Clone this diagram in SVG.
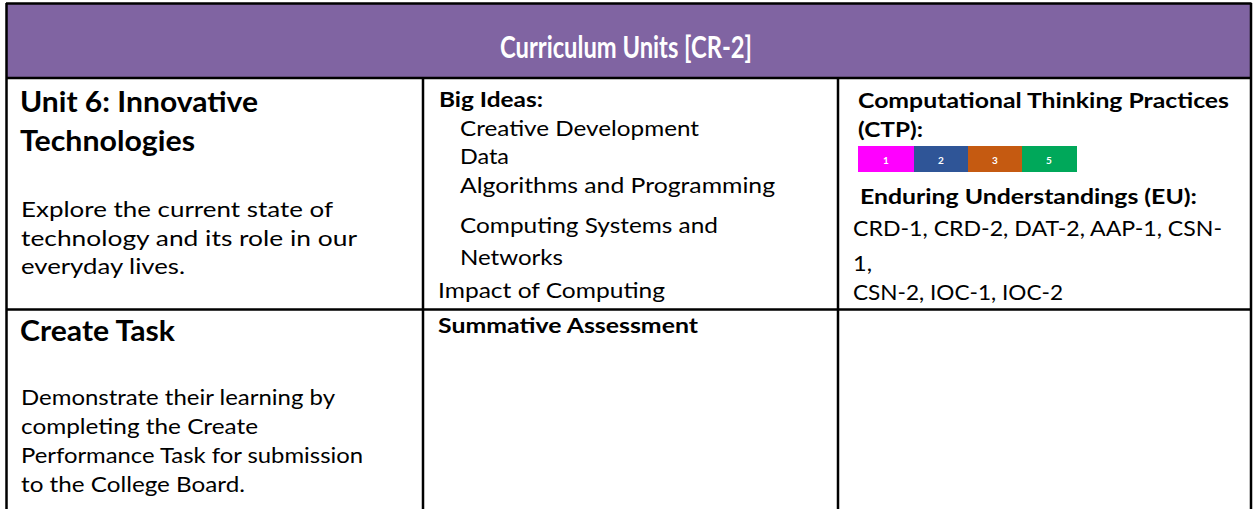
<svg xmlns="http://www.w3.org/2000/svg" width="1253" height="509" viewBox="0 0 1253 509">
<style>
text{font-family:Lato,"Open Sans","Liberation Sans",sans-serif;fill:#000}
.hd{font-weight:700;font-size:31px;fill:#fff}
.tt{font-weight:700;font-size:28px}
.bd{font-size:22px}
.lb{font-weight:700;font-size:21px}
.num{font-weight:700;font-size:10px;fill:#fff;text-anchor:middle}
.ln{stroke:#000;stroke-width:2.5;fill:none}
</style>
<rect width="1253" height="509" fill="#fff"/>
<g id="header">
<rect x="6" y="4" width="1245" height="73" fill="#8064A2"/>
<text class="hd" x="500" y="58" textLength="252" lengthAdjust="spacingAndGlyphs">Curriculum Units [CR-2]</text>
</g>
<g id="unit6">
<text class="tt" x="20" y="112" textLength="238" lengthAdjust="spacingAndGlyphs">Unit 6: Innovative</text>
<text class="tt" x="20" y="151" textLength="175" lengthAdjust="spacingAndGlyphs">Technologies</text>
<text class="bd" x="21" y="217" textLength="312" lengthAdjust="spacingAndGlyphs">Explore the current state of</text>
<text class="bd" x="21" y="246" textLength="336" lengthAdjust="spacingAndGlyphs">technology and its role in our</text>
<text class="bd" x="21" y="274" textLength="164" lengthAdjust="spacingAndGlyphs">everyday lives.</text>
</g>
<g id="bigideas">
<text class="lb" x="439" y="107" textLength="104" lengthAdjust="spacingAndGlyphs">Big Ideas:</text>
<text class="bd" x="460" y="136" textLength="239" lengthAdjust="spacingAndGlyphs">Creative Development</text>
<text class="bd" x="460" y="164" textLength="49" lengthAdjust="spacingAndGlyphs">Data</text>
<text class="bd" x="460" y="193" textLength="315" lengthAdjust="spacingAndGlyphs">Algorithms and Programming</text>
<text class="bd" x="460" y="233" textLength="258" lengthAdjust="spacingAndGlyphs">Computing Systems and</text>
<text class="bd" x="460" y="265" textLength="103" lengthAdjust="spacingAndGlyphs">Networks</text>
<text class="bd" x="438" y="298" textLength="227" lengthAdjust="spacingAndGlyphs">Impact of Computing</text>
</g>
<g id="ctp">
<text class="lb" x="858" y="108" textLength="371" lengthAdjust="spacingAndGlyphs">Computational Thinking Practices</text>
<text class="lb" x="858" y="137" textLength="65" lengthAdjust="spacingAndGlyphs">(CTP):</text>
<rect x="858" y="146" width="56" height="26" fill="#FF00FF"/>
<rect x="914" y="146" width="54" height="26" fill="#2F5597"/>
<rect x="968" y="146" width="54" height="26" fill="#C55A11"/>
<rect x="1022" y="146" width="55" height="26" fill="#00A85A"/>
<text class="num" x="886" y="164">1</text>
<text class="num" x="941" y="164">2</text>
<text class="num" x="995" y="164">3</text>
<text class="num" x="1049" y="164">5</text>
<text class="lb" x="860" y="204" textLength="337" lengthAdjust="spacingAndGlyphs">Enduring Understandings (EU):</text>
<text class="bd" x="853" y="236" textLength="369" lengthAdjust="spacingAndGlyphs">CRD-1, CRD-2, DAT-2, AAP-1, CSN-</text>
<text class="bd" x="853" y="271" textLength="19" lengthAdjust="spacingAndGlyphs">1,</text>
<text class="bd" x="853" y="300" textLength="210" lengthAdjust="spacingAndGlyphs">CSN-2, IOC-1, IOC-2</text>
</g>
<g id="createtask">
<text class="tt" x="20" y="341" textLength="155" lengthAdjust="spacingAndGlyphs">Create Task</text>
<text class="bd" x="21" y="405" textLength="314" lengthAdjust="spacingAndGlyphs">Demonstrate their learning by</text>
<text class="bd" x="21" y="434" textLength="237" lengthAdjust="spacingAndGlyphs">completing the Create</text>
<text class="bd" x="21" y="463" textLength="342" lengthAdjust="spacingAndGlyphs">Performance Task for submission</text>
<text class="bd" x="21" y="492" textLength="224" lengthAdjust="spacingAndGlyphs">to the College Board.</text>
</g>
<g id="summative">
<text class="lb" x="438" y="333" textLength="260" lengthAdjust="spacingAndGlyphs">Summative Assessment</text>
</g>
<g id="empty"/>
<g id="connectors">
<path class="ln" d="M6,3.5H1251.5M6,78H1251.5M6,309.5H1251.5M6.5,3V509M423,78V509M838,78V509M1251,3V509"/>
</g>
</svg>
